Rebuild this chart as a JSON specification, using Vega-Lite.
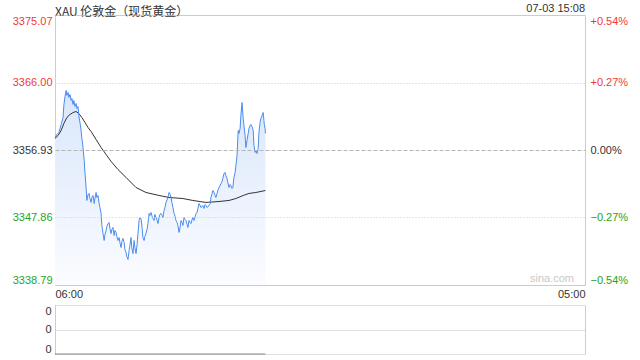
{
"$schema": "https://vega.github.io/schema/vega-lite/v6.json",
"padding": {"left": 11, "top": 2, "right": 0, "bottom": 0},
"background": "white",
"spacing": 5,
"config": {
  "font": "Liberation Sans",
  "view": {"stroke": "#cccccc"},
  "axis": {"labelFont": "Liberation Sans", "labelFontSize": 11, "labelColor": "#333333", "ticks": false, "domain": false, "title": null, "grid": false}
},
"datasets": {
"px": [
{"t":"2025-07-03T06:00","p":3358.61,"v":0},{"t":"2025-07-03T06:05","p":3359.02,"v":0},{"t":"2025-07-03T06:10","p":3359.28,"v":0},{"t":"2025-07-03T06:16","p":3360.36,"v":0},{"t":"2025-07-03T06:21","p":3361.30,"v":0},{"t":"2025-07-03T06:23","p":3362.91,"v":0},{"t":"2025-07-03T06:26","p":3364.12,"v":0},{"t":"2025-07-03T06:29","p":3364.93,"v":0},{"t":"2025-07-03T06:31","p":3364.26,"v":0},{"t":"2025-07-03T06:34","p":3364.66,"v":0},{"t":"2025-07-03T06:36","p":3363.99,"v":0},{"t":"2025-07-03T06:39","p":3364.39,"v":0},{"t":"2025-07-03T06:42","p":3363.58,"v":0},{"t":"2025-07-03T06:44","p":3363.85,"v":0},{"t":"2025-07-03T06:47","p":3363.05,"v":0},{"t":"2025-07-03T06:49","p":3363.58,"v":0},{"t":"2025-07-03T06:52","p":3362.78,"v":0},{"t":"2025-07-03T06:55","p":3363.18,"v":0},{"t":"2025-07-03T06:57","p":3362.51,"v":0},{"t":"2025-07-03T07:00","p":3362.78,"v":0},
{"t":"2025-07-03T07:02","p":3361.57,"v":0},{"t":"2025-07-03T07:05","p":3360.62,"v":0},{"t":"2025-07-03T07:08","p":3359.55,"v":0},{"t":"2025-07-03T07:10","p":3358.48,"v":0},{"t":"2025-07-03T07:13","p":3357.27,"v":0},{"t":"2025-07-03T07:16","p":3355.52,"v":0},{"t":"2025-07-03T07:18","p":3353.91,"v":0},{"t":"2025-07-03T07:21","p":3351.89,"v":0},{"t":"2025-07-03T07:23","p":3350.15,"v":0},{"t":"2025-07-03T07:26","p":3350.95,"v":0},{"t":"2025-07-03T07:29","p":3351.09,"v":0},{"t":"2025-07-03T07:31","p":3350.41,"v":0},{"t":"2025-07-03T07:34","p":3349.88,"v":0},{"t":"2025-07-03T07:36","p":3350.55,"v":0},{"t":"2025-07-03T07:39","p":3350.82,"v":0},{"t":"2025-07-03T07:42","p":3349.74,"v":0},{"t":"2025-07-03T07:44","p":3350.41,"v":0},{"t":"2025-07-03T07:47","p":3351.22,"v":0},{"t":"2025-07-03T07:49","p":3350.55,"v":0},{"t":"2025-07-03T07:52","p":3350.82,"v":0},
{"t":"2025-07-03T07:55","p":3349.74,"v":0},{"t":"2025-07-03T07:57","p":3349.20,"v":0},{"t":"2025-07-03T08:00","p":3348.40,"v":0},{"t":"2025-07-03T08:02","p":3346.79,"v":0},{"t":"2025-07-03T08:05","p":3345.71,"v":0},{"t":"2025-07-03T08:08","p":3344.77,"v":0},{"t":"2025-07-03T08:10","p":3345.58,"v":0},{"t":"2025-07-03T08:13","p":3346.11,"v":0},{"t":"2025-07-03T08:15","p":3346.65,"v":0},{"t":"2025-07-03T08:18","p":3347.05,"v":0},{"t":"2025-07-03T08:21","p":3347.19,"v":0},{"t":"2025-07-03T08:23","p":3346.38,"v":0},{"t":"2025-07-03T08:26","p":3345.71,"v":0},{"t":"2025-07-03T08:28","p":3346.25,"v":0},{"t":"2025-07-03T08:31","p":3346.52,"v":0},{"t":"2025-07-03T08:34","p":3345.44,"v":0},{"t":"2025-07-03T08:36","p":3346.11,"v":0},{"t":"2025-07-03T08:39","p":3345.85,"v":0},{"t":"2025-07-03T08:41","p":3345.31,"v":0},{"t":"2025-07-03T08:44","p":3344.77,"v":0},
{"t":"2025-07-03T08:47","p":3345.17,"v":0},{"t":"2025-07-03T08:49","p":3344.50,"v":0},{"t":"2025-07-03T08:52","p":3343.83,"v":0},{"t":"2025-07-03T08:54","p":3344.64,"v":0},{"t":"2025-07-03T08:57","p":3345.04,"v":0},{"t":"2025-07-03T09:00","p":3344.50,"v":0},{"t":"2025-07-03T09:02","p":3343.56,"v":0},{"t":"2025-07-03T09:05","p":3343.16,"v":0},{"t":"2025-07-03T09:07","p":3342.62,"v":0},{"t":"2025-07-03T09:10","p":3342.22,"v":0},{"t":"2025-07-03T09:13","p":3343.43,"v":0},{"t":"2025-07-03T09:15","p":3344.10,"v":0},{"t":"2025-07-03T09:18","p":3345.17,"v":0},{"t":"2025-07-03T09:20","p":3343.83,"v":0},{"t":"2025-07-03T09:23","p":3343.02,"v":0},{"t":"2025-07-03T09:26","p":3344.77,"v":0},{"t":"2025-07-03T09:28","p":3343.83,"v":0},{"t":"2025-07-03T09:31","p":3343.02,"v":0},{"t":"2025-07-03T09:34","p":3344.37,"v":0},{"t":"2025-07-03T09:36","p":3345.71,"v":0},
{"t":"2025-07-03T09:39","p":3347.46,"v":0},{"t":"2025-07-03T09:41","p":3347.86,"v":0},{"t":"2025-07-03T09:44","p":3347.73,"v":0},{"t":"2025-07-03T09:47","p":3346.38,"v":0},{"t":"2025-07-03T09:49","p":3345.17,"v":0},{"t":"2025-07-03T09:52","p":3344.77,"v":0},{"t":"2025-07-03T09:54","p":3345.31,"v":0},{"t":"2025-07-03T09:57","p":3345.71,"v":0},{"t":"2025-07-03T10:00","p":3346.38,"v":0},{"t":"2025-07-03T10:02","p":3347.05,"v":0},{"t":"2025-07-03T10:05","p":3348.40,"v":0},{"t":"2025-07-03T10:07","p":3348.13,"v":0},{"t":"2025-07-03T10:10","p":3348.53,"v":0},{"t":"2025-07-03T10:13","p":3348.00,"v":0},{"t":"2025-07-03T10:15","p":3347.73,"v":0},{"t":"2025-07-03T10:18","p":3347.46,"v":0},{"t":"2025-07-03T10:20","p":3348.27,"v":0},{"t":"2025-07-03T10:23","p":3347.86,"v":0},{"t":"2025-07-03T10:26","p":3347.46,"v":0},{"t":"2025-07-03T10:28","p":3347.05,"v":0},
{"t":"2025-07-03T10:31","p":3347.86,"v":0},{"t":"2025-07-03T10:33","p":3348.27,"v":0},{"t":"2025-07-03T10:36","p":3348.40,"v":0},{"t":"2025-07-03T10:39","p":3348.13,"v":0},{"t":"2025-07-03T10:41","p":3347.86,"v":0},{"t":"2025-07-03T10:44","p":3348.80,"v":0},{"t":"2025-07-03T10:47","p":3349.34,"v":0},{"t":"2025-07-03T10:49","p":3349.88,"v":0},{"t":"2025-07-03T10:52","p":3350.28,"v":0},{"t":"2025-07-03T10:54","p":3350.55,"v":0},{"t":"2025-07-03T10:57","p":3351.22,"v":0},{"t":"2025-07-03T11:00","p":3350.95,"v":0},{"t":"2025-07-03T11:02","p":3350.55,"v":0},{"t":"2025-07-03T11:05","p":3349.74,"v":0},{"t":"2025-07-03T11:07","p":3349.20,"v":0},{"t":"2025-07-03T11:10","p":3348.40,"v":0},{"t":"2025-07-03T11:13","p":3347.99,"v":0},{"t":"2025-07-03T11:15","p":3347.46,"v":0},{"t":"2025-07-03T11:18","p":3347.19,"v":0},{"t":"2025-07-03T11:20","p":3346.79,"v":0},
{"t":"2025-07-03T11:23","p":3345.85,"v":0},{"t":"2025-07-03T11:26","p":3346.65,"v":0},{"t":"2025-07-03T11:28","p":3347.46,"v":0},{"t":"2025-07-03T11:31","p":3347.19,"v":0},{"t":"2025-07-03T11:33","p":3346.79,"v":0},{"t":"2025-07-03T11:36","p":3347.86,"v":0},{"t":"2025-07-03T11:39","p":3347.59,"v":0},{"t":"2025-07-03T11:41","p":3347.46,"v":0},{"t":"2025-07-03T11:44","p":3346.92,"v":0},{"t":"2025-07-03T11:46","p":3346.52,"v":0},{"t":"2025-07-03T11:49","p":3347.46,"v":0},{"t":"2025-07-03T11:52","p":3347.19,"v":0},{"t":"2025-07-03T11:54","p":3347.05,"v":0},{"t":"2025-07-03T11:57","p":3347.59,"v":0},{"t":"2025-07-03T11:59","p":3347.86,"v":0},{"t":"2025-07-03T12:02","p":3347.46,"v":0},{"t":"2025-07-03T12:05","p":3347.99,"v":0},{"t":"2025-07-03T12:07","p":3348.40,"v":0},{"t":"2025-07-03T12:10","p":3348.53,"v":0},{"t":"2025-07-03T12:12","p":3349.07,"v":0},
{"t":"2025-07-03T12:15","p":3349.74,"v":0},{"t":"2025-07-03T12:18","p":3349.47,"v":0},{"t":"2025-07-03T12:20","p":3349.20,"v":0},{"t":"2025-07-03T12:23","p":3349.34,"v":0},{"t":"2025-07-03T12:25","p":3349.47,"v":0},{"t":"2025-07-03T12:28","p":3349.07,"v":0},{"t":"2025-07-03T12:31","p":3349.61,"v":0},{"t":"2025-07-03T12:33","p":3349.47,"v":0},{"t":"2025-07-03T12:36","p":3349.20,"v":0},{"t":"2025-07-03T12:38","p":3349.34,"v":0},{"t":"2025-07-03T12:41","p":3349.47,"v":0},{"t":"2025-07-03T12:44","p":3349.74,"v":0},{"t":"2025-07-03T12:46","p":3350.55,"v":0},{"t":"2025-07-03T12:49","p":3351.09,"v":0},{"t":"2025-07-03T12:51","p":3351.49,"v":0},{"t":"2025-07-03T12:54","p":3351.22,"v":0},{"t":"2025-07-03T12:57","p":3350.82,"v":0},{"t":"2025-07-03T12:59","p":3350.55,"v":0},{"t":"2025-07-03T13:02","p":3351.09,"v":0},{"t":"2025-07-03T13:04","p":3351.49,"v":0},
{"t":"2025-07-03T13:07","p":3351.89,"v":0},{"t":"2025-07-03T13:10","p":3352.16,"v":0},{"t":"2025-07-03T13:12","p":3352.43,"v":0},{"t":"2025-07-03T13:15","p":3352.70,"v":0},{"t":"2025-07-03T13:17","p":3353.10,"v":0},{"t":"2025-07-03T13:20","p":3353.78,"v":0},{"t":"2025-07-03T13:23","p":3353.91,"v":0},{"t":"2025-07-03T13:25","p":3353.50,"v":0},{"t":"2025-07-03T13:28","p":3353.10,"v":0},{"t":"2025-07-03T13:30","p":3352.57,"v":0},{"t":"2025-07-03T13:33","p":3351.89,"v":0},{"t":"2025-07-03T13:36","p":3352.30,"v":0},{"t":"2025-07-03T13:38","p":3352.16,"v":0},{"t":"2025-07-03T13:41","p":3351.76,"v":0},{"t":"2025-07-03T13:43","p":3351.89,"v":0},{"t":"2025-07-03T13:46","p":3353.24,"v":0},{"t":"2025-07-03T13:49","p":3353.91,"v":0},{"t":"2025-07-03T13:51","p":3354.85,"v":0},{"t":"2025-07-03T13:54","p":3356.19,"v":0},{"t":"2025-07-03T13:57","p":3359.55,"v":0},
{"t":"2025-07-03T13:59","p":3359.15,"v":0},{"t":"2025-07-03T14:02","p":3359.82,"v":0},{"t":"2025-07-03T14:04","p":3361.57,"v":0},{"t":"2025-07-03T14:07","p":3363.31,"v":0},{"t":"2025-07-03T14:10","p":3361.16,"v":0},{"t":"2025-07-03T14:12","p":3360.22,"v":0},{"t":"2025-07-03T14:15","p":3358.88,"v":0},{"t":"2025-07-03T14:17","p":3357.27,"v":0},{"t":"2025-07-03T14:20","p":3358.21,"v":0},{"t":"2025-07-03T14:23","p":3359.15,"v":0},{"t":"2025-07-03T14:25","p":3359.82,"v":0},{"t":"2025-07-03T14:28","p":3360.22,"v":0},{"t":"2025-07-03T14:30","p":3360.36,"v":0},{"t":"2025-07-03T14:33","p":3360.09,"v":0},{"t":"2025-07-03T14:36","p":3359.55,"v":0},{"t":"2025-07-03T14:38","p":3357.55,"v":0},{"t":"2025-07-03T14:41","p":3356.61,"v":0},{"t":"2025-07-03T14:43","p":3356.88,"v":0},{"t":"2025-07-03T14:46","p":3356.46,"v":0},{"t":"2025-07-03T14:49","p":3357.13,"v":0},
{"t":"2025-07-03T14:51","p":3359.28,"v":0},{"t":"2025-07-03T14:54","p":3360.62,"v":0},{"t":"2025-07-03T14:56","p":3361.16,"v":0},{"t":"2025-07-03T14:59","p":3361.57,"v":0},{"t":"2025-07-03T15:02","p":3361.97,"v":0},{"t":"2025-07-03T15:04","p":3360.90,"v":0},{"t":"2025-07-03T15:05","p":3360.36,"v":0},{"t":"2025-07-03T15:07","p":3359.82,"v":0},{"t":"2025-07-03T15:08","p":3359.15,"v":0}
],
"avg": [
{"t":"2025-07-03T06:00","a":3358.48},{"t":"2025-07-03T06:08","a":3358.88},{"t":"2025-07-03T06:16","a":3359.55},{"t":"2025-07-03T06:23","a":3360.49},{"t":"2025-07-03T06:31","a":3361.30},{"t":"2025-07-03T06:39","a":3361.70},{"t":"2025-07-03T06:47","a":3361.97},{"t":"2025-07-03T06:55","a":3362.10},{"t":"2025-07-03T07:02","a":3361.84},{"t":"2025-07-03T07:10","a":3361.30},{"t":"2025-07-03T07:18","a":3360.63},{"t":"2025-07-03T07:26","a":3359.95},{"t":"2025-07-03T07:34","a":3359.42},{"t":"2025-07-03T07:47","a":3358.34},{"t":"2025-07-03T08:00","a":3357.27},{"t":"2025-07-03T08:13","a":3356.33},{"t":"2025-07-03T08:26","a":3355.39},{"t":"2025-07-03T08:44","a":3354.31},{"t":"2025-07-03T09:05","a":3353.24},{"t":"2025-07-03T09:31","a":3351.89},{"t":"2025-07-03T09:57","a":3351.22},{"t":"2025-07-03T10:31","a":3350.82},{"t":"2025-07-03T10:57","a":3350.55},{"t":"2025-07-03T11:33","a":3350.41},{"t":"2025-07-03T11:59","a":3350.15},{"t":"2025-07-03T12:33","a":3349.88},{"t":"2025-07-03T13:07","a":3350.01},{"t":"2025-07-03T13:33","a":3350.15},{"t":"2025-07-03T13:51","a":3350.41},{"t":"2025-07-03T14:10","a":3350.82},{"t":"2025-07-03T14:25","a":3351.09},{"t":"2025-07-03T14:43","a":3351.22},{"t":"2025-07-03T15:08","a":3351.49}
],
"note": [{"stamp": "07-03 15:08", "site": "sina.com"}]
},
"vconcat": [
{
  "width": 530,
  "height": 270,
  "title": {"text": "XAU 伦敦金（现货黄金）", "anchor": "start", "frame": "group", "font": "Noto Sans CJK SC", "fontSize": 12, "fontWeight": "normal", "color": "#333333", "offset": -16},
  "resolve": {"axis": {"y": "independent"}},
  "layer": [
    {
      "data": {"name": "px"},
      "mark": {"type": "area", "clip": true, "fill": {"gradient": "linear", "x1": 0, "y1": 0, "x2": 0, "y2": 1, "stops": [{"offset": 0, "color": "#d9e6fb"}, {"offset": 1, "color": "#fbfcff"}]}},
      "encoding": {
        "x": {"field": "t", "type": "temporal",
              "scale": {"domain": [{"year": 2025, "month": 7, "date": 3, "hours": 6}, {"year": 2025, "month": 7, "date": 4, "hours": 5}]},
              "axis": {"values": [{"year": 2025, "month": 7, "date": 3, "hours": 6}, {"year": 2025, "month": 7, "date": 4, "hours": 5}], "format": "%H:%M", "labelFlush": true, "labelPadding": 3, "labelColor": "#333333"}},
        "y": {"field": "p", "type": "quantitative",
              "scale": {"domain": [3338.79, 3375.07], "zero": false, "nice": false},
              "axis": {"orient": "left", "values": [3338.79, 3347.86, 3356.93, 3366.00, 3375.07], "format": ".2f", "labelFlush": true, "labelPadding": 3, "grid": true, "zindex": 1,
                       "gridColor": {"condition": {"test": "abs(datum.value-3356.93)<0.01", "value": "#b5b5b5"}, "value": "#cccccc"},
                       "gridDash": {"condition": {"test": "abs(datum.value-3356.93)<0.01", "value": [4, 2]}, "value": [1, 2]},
                       "labelColor": {"condition": [{"test": "datum.value>3357", "value": "#f03a3a"}, {"test": "datum.value<3356", "value": "#1ea51e"}], "value": "#333333"}}},
        "y2": {"datum": 3338.79}
      }
    },
    {
      "data": {"name": "avg"},
      "mark": {"type": "line", "color": "#333333", "strokeWidth": 1},
      "encoding": {
        "x": {"field": "t", "type": "temporal"},
        "y": {"field": "a", "type": "quantitative", "axis": null}
      }
    },
    {
      "data": {"name": "px"},
      "mark": {"type": "line", "color": "#4a8cf0", "strokeWidth": 1},
      "encoding": {
        "x": {"field": "t", "type": "temporal"},
        "y": {"field": "p", "type": "quantitative",
              "axis": {"orient": "right", "values": [3338.79, 3347.86, 3356.93, 3366.00, 3375.07], "labelFlush": true, "labelPadding": 5,
                       "labelExpr": "abs(datum.value-3356.93)<0.01 ? '0.00%' : format((datum.value-3356.93)/3356.93*100, '+.2f') + '%'",
                       "labelColor": {"condition": [{"test": "datum.value>3357", "value": "#f03a3a"}, {"test": "datum.value<3356", "value": "#1ea51e"}], "value": "#333333"}}}
      }
    },
    {
      "data": {"name": "note"},
      "mark": {"type": "text", "align": "right", "baseline": "bottom", "dy": -1, "fontSize": 11, "color": "#333333", "font": "Liberation Sans"},
      "encoding": {
        "x": {"datum": {"year": 2025, "month": 7, "date": 4, "hours": 5}, "type": "temporal"},
        "y": {"datum": 3375.07, "type": "quantitative", "axis": null},
        "text": {"field": "stamp"}
      }
    },
    {
      "data": {"name": "note"},
      "mark": {"type": "text", "align": "right", "baseline": "bottom", "dx": -11, "dy": -1, "fontSize": 11, "color": "#c8c8c8", "font": "Liberation Sans"},
      "encoding": {
        "x": {"datum": {"year": 2025, "month": 7, "date": 4, "hours": 5}, "type": "temporal"},
        "y": {"datum": 3338.79, "type": "quantitative", "axis": null},
        "text": {"field": "site"}
      }
    }
  ]
},
{
  "width": 530,
  "height": 49,
  "data": {"name": "px"},
  "view": {"stroke": null},
  "resolve": {"axis": {"y": "independent"}},
  "layer": [
    {
      "mark": {"type": "line", "color": "#808080", "strokeWidth": 1},
      "encoding": {
        "x": {"field": "t", "type": "temporal", "scale": {"domain": [{"year": 2025, "month": 7, "date": 3, "hours": 6}, {"year": 2025, "month": 7, "date": 4, "hours": 5}]}, "axis": null},
        "y": {"field": "v", "type": "quantitative", "scale": {"domain": [0, 0.4], "nice": false},
              "axis": {"orient": "left", "values": [0, 0.2, 0.4], "format": ".0f", "labelFlush": true, "labelPadding": 4, "grid": true, "gridColor": "#c0c0c0", "gridDash": [1, 1], "domain": true, "domainColor": "#cccccc"}}
      }
    },
    {
      "mark": {"type": "line", "opacity": 0},
      "encoding": {
        "x": {"field": "t", "type": "temporal"},
        "y": {"field": "v", "type": "quantitative", "axis": {"orient": "right", "labels": false, "domain": true, "domainColor": "#cccccc", "values": [0, 0.4]}}
      }
    }
  ]
}
]
}
